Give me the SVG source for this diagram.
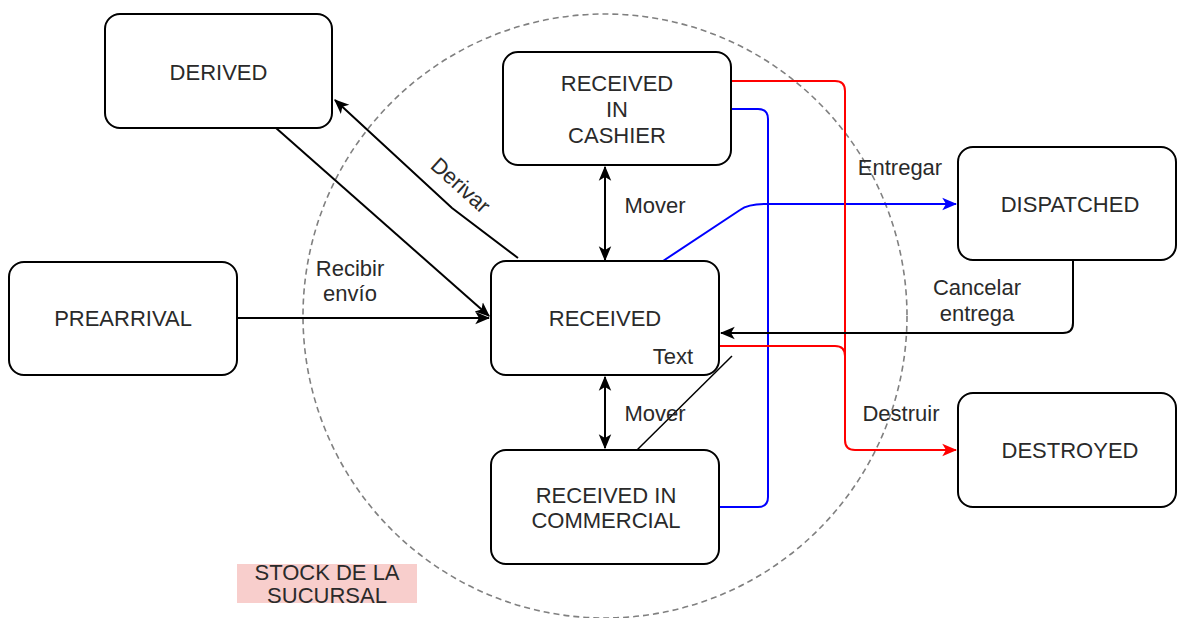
<svg xmlns="http://www.w3.org/2000/svg" width="1177" height="618" viewBox="0 0 1177 618">
<defs>
<marker id="ab" viewBox="0 0 12 12" refX="11" refY="6" markerWidth="15" markerHeight="15" markerUnits="userSpaceOnUse" orient="auto-start-reverse"><path d="M0,1 L12,6 L0,11 L3,6 z" fill="#000"/></marker>
<marker id="abl" viewBox="0 0 12 12" refX="11" refY="6" markerWidth="15" markerHeight="15" markerUnits="userSpaceOnUse" orient="auto"><path d="M0,1 L12,6 L0,11 L3,6 z" fill="#0000ff"/></marker>
<marker id="ar" viewBox="0 0 12 12" refX="11" refY="6" markerWidth="15" markerHeight="15" markerUnits="userSpaceOnUse" orient="auto"><path d="M0,1 L12,6 L0,11 L3,6 z" fill="#ff0000"/></marker>
</defs>
<style>
.n{fill:#fff;stroke:#000;stroke-width:2}
.t{font-family:"Liberation Sans",Arial,sans-serif;font-size:22px;fill:#2a2a2a;text-anchor:middle}
.c{fill:none;stroke:#000;stroke-width:2}
.b{fill:none;stroke:#0000ff;stroke-width:2}
.r{fill:none;stroke:#ff0000;stroke-width:2}
</style>
<rect width="1177" height="618" fill="#fff"/>
<g id="group-boundary">
<circle cx="605" cy="316" r="302" fill="none" stroke="#808080" stroke-width="1.6" stroke-dasharray="6 4"/>
<rect x="237" y="564" width="180" height="39" fill="#f8cecc"/>
<text class="t" x="327" y="580">STOCK DE LA</text>
<text class="t" x="327" y="603">SUCURSAL</text>
</g>
<g id="connectors">
<path class="c" d="M237,318 L489,318" marker-end="url(#ab)"/>
<path class="c" d="M276,128 L489,316" marker-end="url(#ab)"/>
<path class="c" d="M518,258 L452,208 L335,100" marker-end="url(#ab)"/>
<path class="c" d="M605,167 L605,260" marker-start="url(#ab)" marker-end="url(#ab)"/>
<path class="c" d="M605,377 L605,448" marker-start="url(#ab)" marker-end="url(#ab)"/>
<path class="b" d="M663,261 L740,210 Q748,204 765,204 L956,204" marker-end="url(#abl)"/>
<path class="b" d="M731,109 L758,109 Q768,109 768,119 L768,497 Q768,507 758,507 L720,507"/>
<path class="r" d="M731,81 L835,81 Q845,81 845,91 L845,440 Q845,450 855,450 L956,450" marker-end="url(#ar)"/>
<path class="r" d="M720,346 L835,346 Q845,346 845,356"/>
<path class="c" d="M1073,261 L1073,323 Q1073,333 1063,333 L721,333" marker-end="url(#ab)"/>
<path fill="none" stroke="#000" stroke-width="1.5" d="M732,356 L637,450"/>
<text class="t" x="350" y="276">Recibir</text>
<text class="t" x="350" y="301">envío</text>
<text class="t" transform="translate(461,185) rotate(42)" x="0" y="8">Derivar</text>
<text class="t" x="655" y="213">Mover</text>
<text class="t" x="655" y="421">Mover</text>
<text class="t" x="900" y="175">Entregar</text>
<text class="t" x="977" y="295">Cancelar</text>
<text class="t" x="977" y="321">entrega</text>
<text class="t" x="901" y="421">Destruir</text>
</g>
<g id="derived"><rect class="n" x="105" y="14" width="227" height="114" rx="15"/><text class="t" x="218.5" y="80">DERIVED</text></g>
<g id="prearrival"><rect class="n" x="9" y="262" width="228" height="113" rx="15"/><text class="t" x="123" y="326">PREARRIVAL</text></g>
<g id="received-in-cashier"><rect class="n" x="503" y="52" width="228" height="113" rx="15"/><text class="t" x="617" y="91">RECEIVED</text><text class="t" x="617" y="117">IN</text><text class="t" x="617" y="143">CASHIER</text></g>
<g id="received"><rect class="n" x="491" y="261" width="228" height="114" rx="15"/><text class="t" x="605" y="326">RECEIVED</text><text class="t" x="673" y="364">Text</text></g>
<g id="received-in-commercial"><rect class="n" x="491" y="450" width="228" height="114" rx="15"/><text class="t" x="606" y="503">RECEIVED IN</text><text class="t" x="606" y="528">COMMERCIAL</text></g>
<g id="dispatched"><rect class="n" x="958" y="147" width="218" height="113" rx="15"/><text class="t" x="1070" y="212">DISPATCHED</text></g>
<g id="destroyed"><rect class="n" x="958" y="393" width="218" height="114" rx="15"/><text class="t" x="1070" y="458">DESTROYED</text></g>
</svg>
